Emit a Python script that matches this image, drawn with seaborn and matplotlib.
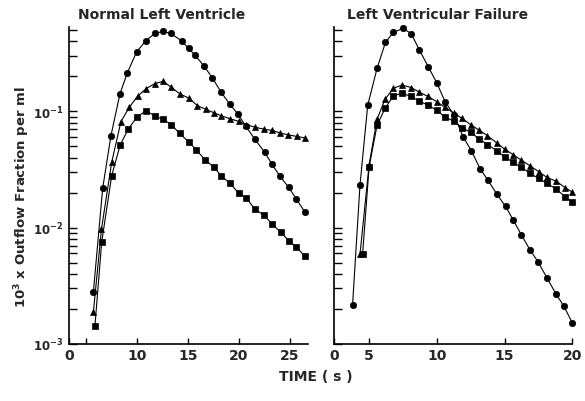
import numpy as np
import pandas as pd
import matplotlib
matplotlib.use("Agg")
import matplotlib.pyplot as plt
from matplotlib.ticker import LogLocator, NullFormatter, FixedLocator
import seaborn as sns

# ---------------- data ----------------
# Normal left ventricle
left_circle_t = [5.72, 6.64, 7.45, 8.33, 9.05, 9.97, 10.88, 11.76, 12.58, 13.30, 14.38, 15.07, 15.69,
                 16.57, 17.42, 18.24, 19.12, 19.93, 20.69, 21.57, 22.55, 23.26, 24.02, 24.90, 25.66, 26.47]
left_circle_v = [0.00278, 0.0219, 0.0617, 0.141, 0.213, 0.324, 0.404, 0.467, 0.485, 0.467, 0.404, 0.347, 0.305,
                 0.246, 0.193, 0.147, 0.115, 0.0946, 0.0741, 0.0577, 0.0444, 0.0351, 0.0279, 0.0222, 0.0176, 0.0137]
left_tri_t = [5.72, 6.52, 7.52, 8.43, 9.25, 10.07, 10.88, 11.76, 12.58, 13.36, 14.22, 15.07, 15.93,
              16.76, 17.60, 18.30, 19.12, 19.98, 20.75, 21.57, 22.50, 23.28, 24.07, 24.88, 25.69, 26.47]
left_tri_v = [0.00187, 0.00973, 0.0364, 0.0815, 0.108, 0.135, 0.156, 0.173, 0.181, 0.161, 0.141, 0.130, 0.112,
              0.104, 0.0968, 0.0914, 0.0863, 0.0820, 0.0766, 0.0731, 0.0700, 0.0685, 0.0650, 0.0627, 0.0608, 0.0591]
left_sq_t = [5.88, 6.54, 7.52, 8.36, 9.15, 10.00, 10.88, 11.76, 12.55, 13.36, 14.19, 15.07, 15.85,
             16.70, 17.55, 18.30, 19.12, 19.98, 20.75, 21.57, 22.50, 23.28, 24.10, 24.92, 25.66, 26.52]
left_sq_v = [0.00144, 0.00751, 0.0279, 0.0515, 0.0703, 0.0891, 0.101, 0.0914, 0.0851, 0.0769, 0.0646, 0.0547, 0.0464,
             0.0382, 0.0332, 0.0277, 0.0242, 0.0198, 0.0180, 0.0144, 0.0128, 0.0107, 0.00920, 0.00771, 0.00678, 0.00565]

# Left ventricular failure
right_circle_t = [3.78, 4.33, 4.90, 5.59, 6.21, 6.79, 7.51, 8.10, 8.71, 9.37, 9.99, 10.61, 11.27, 11.93,
                  12.55, 13.19, 13.78, 14.42, 15.07, 15.65, 16.24, 16.88, 17.49, 18.15, 18.80, 19.37, 20.0]
right_circle_v = [0.00216, 0.0234, 0.113, 0.234, 0.391, 0.477, 0.515, 0.466, 0.337, 0.241, 0.176, 0.121, 0.0927,
                  0.0607, 0.0458, 0.0321, 0.0255, 0.0195, 0.0152, 0.0116, 0.00867, 0.00644, 0.00504, 0.00366,
                  0.00269, 0.00212, 0.00152]
right_tri_t = [4.33, 5.00, 5.59, 6.18, 6.80, 7.43, 8.10, 8.71, 9.35, 9.99, 10.61, 11.25, 11.86,
               12.49, 13.11, 13.74, 14.41, 15.00, 15.62, 16.25, 16.88, 17.51, 18.13, 18.80, 19.46, 20.0]
right_tri_v = [0.00593, 0.0347, 0.0857, 0.127, 0.158, 0.168, 0.160, 0.146, 0.134, 0.121, 0.108, 0.0966, 0.0869,
               0.0769, 0.0689, 0.0617, 0.0536, 0.0473, 0.0425, 0.0379, 0.0340, 0.0303, 0.0270, 0.0251, 0.0221, 0.0202]
right_sq_t = [4.52, 5.00, 5.59, 6.18, 6.80, 7.43, 8.10, 8.71, 9.35, 9.99, 10.61, 11.25, 11.86,
              12.49, 13.11, 13.74, 14.41, 15.00, 15.62, 16.25, 16.88, 17.51, 18.13, 18.80, 19.46, 20.0]
right_sq_v = [0.00593, 0.0332, 0.0760, 0.106, 0.136, 0.143, 0.134, 0.122, 0.113, 0.102, 0.0891, 0.0824, 0.0724,
              0.0659, 0.0581, 0.0518, 0.0458, 0.0408, 0.0364, 0.0330, 0.0293, 0.0265, 0.0240, 0.0215, 0.0185, 0.0165]

titles = ["Normal Left Ventricle", "Left Ventricular Failure"]
left_xticks = [3.33, 5, 10, 15, 20, 25]
left_xticklabels = ["0", "", "10", "15", "20", "25"]
right_xticks = [2.41, 5, 10, 15, 20]
right_xticklabels = ["0", "5", "10", "15", "20"]
yticks = [1e-3, 1e-2, 1e-1]
yticklabels = [r"$10^{-3}$", r"$10^{-2}$", r"$10^{-1}$"]
ylabel = r"10$^{3}$ x Outflow Fraction per ml"
xlabel = "TIME ( s )"

# ---------------- style ----------------
sns.set_style("ticks")
plt.rcParams["font.family"] = ["DejaVu Sans"]
plt.rcParams["font.weight"] = "bold"
plt.rcParams["mathtext.default"] = "bf"

fig = plt.figure(figsize=(5.85, 4.02), dpi=100)
fig.patch.set_facecolor("white")
axL = fig.add_axes([69 / 585, 1 - 345 / 402, (308 - 69) / 585, (345 - 28) / 402])
axR = fig.add_axes([334 / 585, 1 - 345 / 402, (572.3 - 334) / 585, (345 - 28) / 402])

markers = {"circle": "o", "triangle": "^", "square": "s"}


def frame(ts, vs):
    parts = []
    for name, t, v in zip(["circle", "triangle", "square"], ts, vs):
        parts.append(pd.DataFrame({"t": t, "v": v, "series": name}))
    return pd.concat(parts, ignore_index=True)


dfL = frame([left_circle_t, left_tri_t, left_sq_t], [left_circle_v, left_tri_v, left_sq_v])
dfR = frame([right_circle_t, right_tri_t, right_sq_t], [right_circle_v, right_tri_v, right_sq_v])

for ax, df in [(axL, dfL), (axR, dfR)]:
    sns.lineplot(data=df, x="t", y="v", style="series", markers=markers, dashes=False,
                 color="black", estimator=None, sort=True, legend=False, ax=ax,
                 markersize=4.6, linewidth=0.8, markeredgecolor="black", markeredgewidth=0.5,
                 clip_on=False)
    ax.set_yscale("log")
    ax.set_ylim(1e-3, 0.53)
    ax.yaxis.set_major_locator(FixedLocator(yticks))
    ax.yaxis.set_minor_locator(LogLocator(base=10, subs=np.arange(2, 10)))
    ax.yaxis.set_minor_formatter(NullFormatter())
    ax.set_xlabel("")
    ax.set_ylabel("")
    for s in ["top", "right"]:
        ax.spines[s].set_visible(False)
    for s in ["left", "bottom"]:
        ax.spines[s].set_linewidth(1.2)
        ax.spines[s].set_color("black")
    ax.tick_params(axis="y", which="both", direction="in", length=6, width=1.0, color="black",
                   labelsize=8.5, pad=4)
    ax.tick_params(axis="x", which="both", direction="in", length=4, width=1.0, color="black",
                   labelsize=10, pad=3)
    ax.set_facecolor("white")

axL.set_xlim(3.33, 26.8)
axL.set_xticks(left_xticks)
axL.set_xticklabels(left_xticklabels, fontweight="bold")
axL.set_yticklabels(yticklabels)

axR.set_xlim(2.41, 20.0)
axR.set_xticks(right_xticks)
axR.set_xticklabels(right_xticklabels, fontweight="bold")
axR.set_yticklabels([])

axL.text((161.7 - 69) / 239, (345 - 15) / 317, titles[0], transform=axL.transAxes,
         ha="center", va="center", fontsize=10, fontweight="bold")
axR.text((437.7 - 334) / 238.3, (345 - 15) / 317, titles[1], transform=axR.transAxes,
         ha="center", va="center", fontsize=10, fontweight="bold")

fig.text(22 / 585, 1 - 197 / 402, ylabel, rotation=90, ha="center", va="center",
         fontsize=9.5, fontweight="bold")
fig.text(316 / 585, 1 - 377 / 402, xlabel, ha="center", va="center",
         fontsize=10, fontweight="bold")

fig.savefig("out.png", dpi=100, facecolor="white")
